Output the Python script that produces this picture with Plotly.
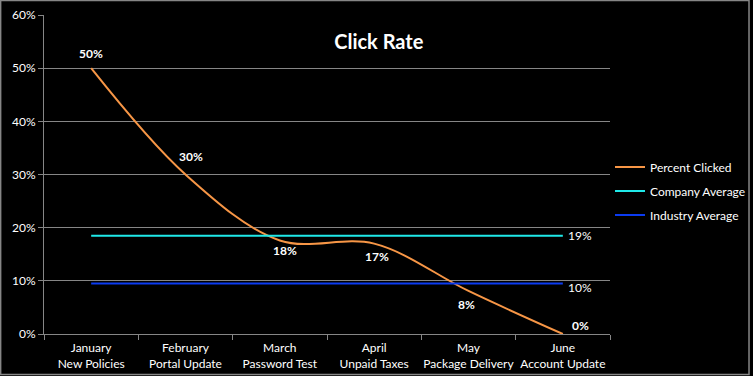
import plotly.graph_objects as go

months = ["January", "February", "March", "April", "May", "June"]
campaigns = ["New Policies", "Portal Update", "Password Test", "Unpaid Taxes", "Package Delivery", "Account Update"]
percent_clicked = [0.50, 0.30, 0.176, 0.17, 0.081, 0.0]
pc_labels = ["50%", "30%", "18%", "17%", "8%", "0%"]
company_avg = [0.185] * 6
industry_avg = [0.095] * 6
company_label = "19%"
industry_label = "10%"
y_ticks = [0, 0.1, 0.2, 0.3, 0.4, 0.5, 0.6]
y_tick_text = ["0%", "10%", "20%", "30%", "40%", "50%", "60%"]

cats = [f"{m}<br>{c}" for m, c in zip(months, campaigns)]
FONT = "Lato, 'Open Sans', sans-serif"

fig = go.Figure()
fig.add_trace(go.Scatter(x=cats, y=percent_clicked, mode="lines", name="Percent Clicked",
                         legendgroup="a",
                         line=dict(color="#F79646", width=2, shape="spline", smoothing=1.0)))
fig.add_trace(go.Scatter(x=cats, y=company_avg, mode="lines", name="Company Average",
                         legendgroup="b",
                         line=dict(color="#1FE8E8", width=2)))
fig.add_trace(go.Scatter(x=cats, y=industry_avg, mode="lines", name="Industry Average",
                         legendgroup="c",
                         line=dict(color="#0B3BF0", width=2)))

# data label offsets (pixels): (xshift, yshift)
offsets = [(0, 15), (5, 18), (5, -10), (3, -13), (-2, -14), (18, 9)]
for i, (lab, (dx, dy)) in enumerate(zip(pc_labels, offsets)):
    fig.add_annotation(x=cats[i], y=percent_clicked[i], text=f"<b>{lab}</b>", showarrow=False,
                       xshift=dx, yshift=dy, font=dict(color="#FFFFFF", size=12, family=FONT))
fig.add_annotation(x=cats[-1], y=company_avg[-1], text=company_label, showarrow=False,
                   xshift=17, yshift=0, font=dict(color="#FFFFFF", size=12, family=FONT))
fig.add_annotation(x=cats[-1], y=industry_avg[-1], text=industry_label, showarrow=False,
                   xshift=17, yshift=-4, font=dict(color="#FFFFFF", size=12, family=FONT))

L, R, T, B = 44, 141, 15, 42
W, H = 753, 376
pw, ph = W - L - R, H - T - B

fig.update_layout(
    width=W, height=H,
    margin=dict(l=L, r=R, t=T, b=B),
    paper_bgcolor="#000000", plot_bgcolor="#000000",
    font=dict(family=FONT, color="#FFFFFF", size=12),
    title=dict(text="<b>Click Rate</b>", x=(380 - L) / pw, xref="paper", xanchor="center",
               y=1 - 42 / H, yanchor="middle", font=dict(size=20, color="#FFFFFF", family=FONT)),
    showlegend=True,
    legend=dict(xref="container", yref="container", x=610 / W, y=1 - 191 / H,
                xanchor="left", yanchor="middle",
                bgcolor="rgba(0,0,0,0)", font=dict(size=12, color="#FFFFFF", family=FONT),
                itemwidth=30, tracegroupgap=5),
    xaxis=dict(range=[-0.5, 5.5], showgrid=False, showline=True, linecolor="#868686", linewidth=1,
               ticks="outside", tickson="boundaries", ticklen=5, tickcolor="#868686",
               automargin=False, tickangle=0, ticklabelstandoff=3,
               tickfont=dict(size=12, color="#FFFFFF", family=FONT)),
    yaxis=dict(range=[0, 0.6], tickvals=y_ticks, ticktext=y_tick_text,
               showgrid=True, gridcolor="#868686", gridwidth=1, zeroline=False,
               showline=True, linecolor="#868686", linewidth=1,
               ticks="outside", ticklen=5, tickcolor="#868686", automargin=False,
               tickfont=dict(size=12, color="#FFFFFF", family=FONT)),
    shapes=[dict(type="rect", xref="paper", yref="paper",
                 x0=(-L + 0.5) / pw, x1=1 + (R - 1.5) / pw,
                 y0=(-B + 1.5) / ph, y1=1 + (T - 0.5) / ph,
                 line=dict(color="#868686", width=1.5), layer="above")],
)

fig.write_html("out.html", config={"displayModeBar": False},
               post_script="document.body.style.margin='0';document.body.style.background='#000';")
